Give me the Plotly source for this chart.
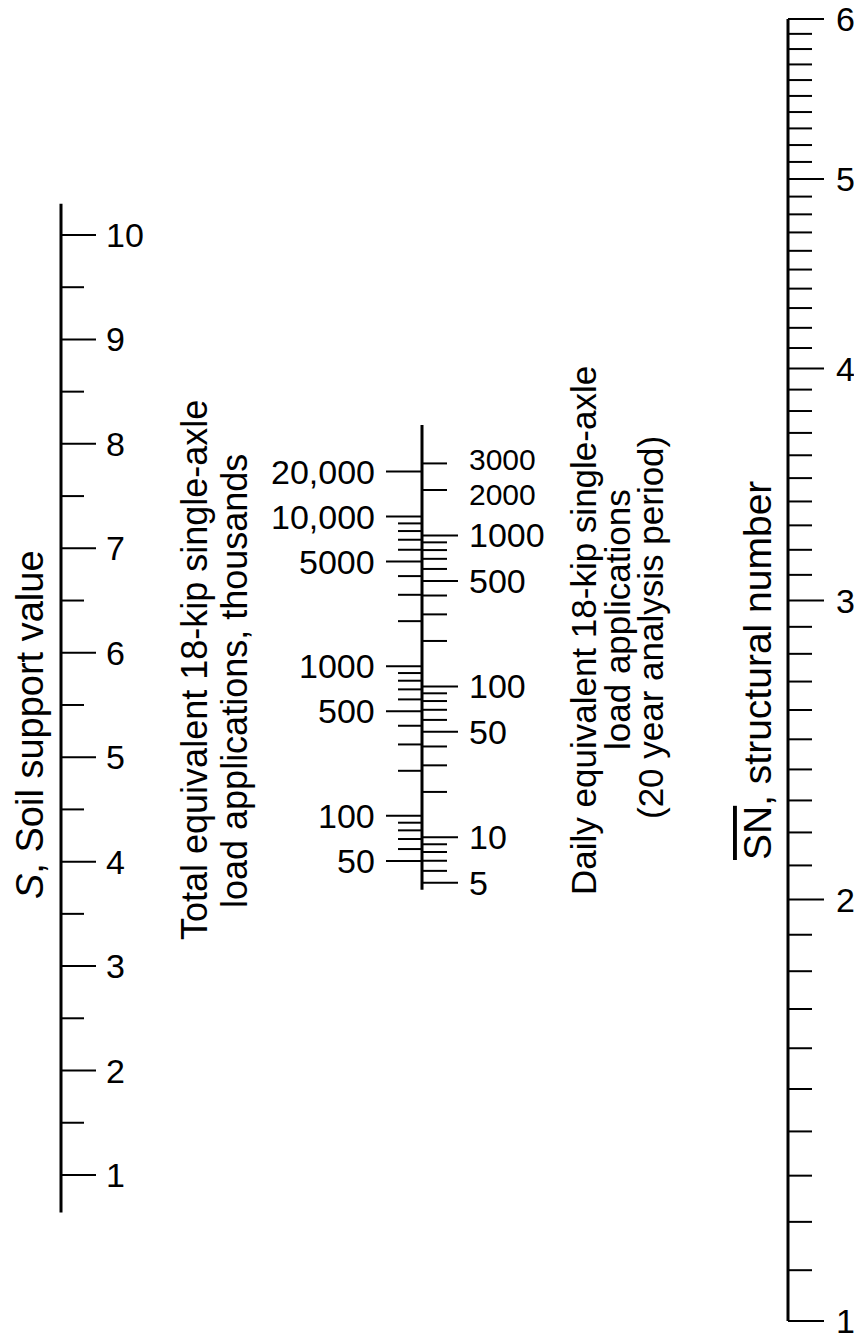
import math
import plotly.graph_objects as go

# ---------------- data (scale values) ----------------
soil_major = [1, 2, 3, 4, 5, 6, 7, 8, 9, 10]
soil_minor = [1.5, 2.5, 3.5, 4.5, 5.5, 6.5, 7.5, 8.5, 9.5]
soil_extent = [0.64, 10.3]

total_major = [50, 100, 500, 1000, 5000, 10000, 20000]
total_labels = ["50", "100", "500", "1000", "5000", "10,000", "20,000"]
total_minor = [60, 70, 80, 90, 200, 300, 400, 600, 700, 800, 900,
               2000, 3000, 4000, 6000, 7000, 8000, 9000]

daily_long = [5, 10, 50, 100, 500, 1000]
daily_labeled = [5, 10, 50, 100, 500, 1000, 2000, 3000]
daily_labels = ["5", "10", "50", "100", "500", "1000", "2000", "3000"]
daily_minor = [6, 7, 8, 9, 20, 30, 40, 60, 70, 80, 90, 200, 300, 400,
               600, 700, 800, 900, 2000, 3000]
daily_extent = [4.5, 5400]

sn_major = [1, 2, 3, 4, 5, 6]
sn_minor = [round(1 + 0.1 * i, 1) for i in range(1, 50) if i % 10]
sn_extent = [1, 6]

# ---------------- layout constants (pixels) ----------------
W, H = 854, 1343
FONT = "Liberation Sans, Arial, Helvetica, sans-serif"
LAB = 34

S_X, S_MAJ, S_MIN, S_LAB = 61, 96, 84, 104
M_X, M_LLONG, M_LSHORT, M_LLAB = 422, 386, 398, 377
M_RLONG, M_RSHORT, M_RLAB = 458, 447, 467
N_X, N_MAJ, N_MIN, N_LAB = 788, 824, 812, 834


def py(p):
    return 1 - p / H


def segs(vals, x0, x1):
    xs, ys = [], []
    for v in vals:
        xs += [x0, x1, None]
        ys += [v, v, None]
    return xs, ys


fig = go.Figure()


def add_lines(vals, x0, x1, yaxis, width=2):
    xs, ys = segs(vals, x0, x1)
    fig.add_trace(go.Scatter(x=xs, y=ys, mode="lines", xaxis="x", yaxis=yaxis,
                             line=dict(color="black", width=width),
                             hoverinfo="skip", showlegend=False))


def add_axis_line(extent, x, yaxis):
    fig.add_trace(go.Scatter(x=[x, x], y=extent, mode="lines", xaxis="x", yaxis=yaxis,
                             line=dict(color="black", width=3),
                             hoverinfo="skip", showlegend=False))


# Soil support scale (linear)
add_axis_line(soil_extent, S_X, "y")
add_lines(soil_major, S_X, S_MAJ, "y")
add_lines(soil_minor, S_X, S_MIN, "y")

# Middle scale: total (left, log) and daily (right, log)
add_axis_line(daily_extent, M_X, "y3")
add_lines(total_major, M_LLONG, M_X, "y2")
add_lines(total_minor, M_LSHORT, M_X, "y2")
add_lines(daily_long, M_X, M_RLONG, "y3")
add_lines(daily_minor, M_X, M_RSHORT, "y3")

# Structural number scale (log of SN+1)
add_axis_line([v + 1 for v in sn_extent], N_X, "y4")
add_lines([v + 1 for v in sn_major], N_X, N_MAJ, "y4")
add_lines([v + 1 for v in sn_minor], N_X, N_MIN, "y4")

ann = []
for v in soil_major:
    ann.append(dict(x=S_LAB, y=v, xref="x", yref="y", text=str(v), showarrow=False,
                    xanchor="left", yanchor="middle", font=dict(size=LAB)))
for v, t in zip(total_major, total_labels):
    ann.append(dict(x=M_LLAB, y=math.log10(v), xref="x", yref="y2", text=t, showarrow=False,
                    xanchor="right", yanchor="middle", font=dict(size=LAB)))
daily_shift = {3000: 4, 2000: -4}
for v, t in zip(daily_labeled, daily_labels):
    ann.append(dict(x=M_RLAB, y=math.log10(v), xref="x", yref="y3", text=t, showarrow=False,
                    xanchor="left", yanchor="middle", yshift=daily_shift.get(v, 0),
                    font=dict(size=LAB if v < 2000 else 30)))
for v in sn_major:
    ann.append(dict(x=N_LAB, y=math.log10(v + 1), xref="x", yref="y4", text=str(v), showarrow=False,
                    xanchor="left", yanchor="middle", font=dict(size=LAB)))

titles = [
    ("<i>S</i>, Soil support value", 30, 725, 38),
    ("Total equivalent 18-kip single-axle", 194, 670, 36),
    ("load applications, thousands", 234, 681, 36),
    ("Daily equivalent 18-kip single-axle", 583, 631, 35),
    ("load applications", 617, 620, 35),
    ("(20 year analysis period)", 650, 628, 35),
    ("<span style='text-decoration:overline'>SN</span>, structural number", 757, 671, 39),
]
for t, x, y, s in titles:
    ann.append(dict(x=x, y=py(y), xref="x", yref="paper", text=t, showarrow=False,
                    textangle=-90, xanchor="center", yanchor="middle", font=dict(size=s)))

hidden = dict(visible=False, showgrid=False, zeroline=False, fixedrange=True)
fig.update_layout(
    width=W, height=H, autosize=False,
    margin=dict(l=0, r=0, t=0, b=0, pad=0),
    paper_bgcolor="white", plot_bgcolor="white",
    font=dict(family=FONT, color="black"),
    showlegend=False,
    xaxis=dict(range=[0, W], domain=[0, 1], **hidden),
    yaxis=dict(range=[-0.609, 12.25], domain=[0, 1], **hidden),
    yaxis2=dict(type="log", range=[-1.5225, 7.4517], overlaying="y", anchor="x", **hidden),
    yaxis3=dict(type="log", range=[-2.3495, 6.547], overlaying="y", anchor="x", **hidden),
    yaxis4=dict(type="log", range=[0.2918, 0.8530], overlaying="y", anchor="x", **hidden),
    annotations=ann,
)

fig.write_html("out.html", config={"displayModeBar": False},
               post_script="document.body.style.margin='0px';")
